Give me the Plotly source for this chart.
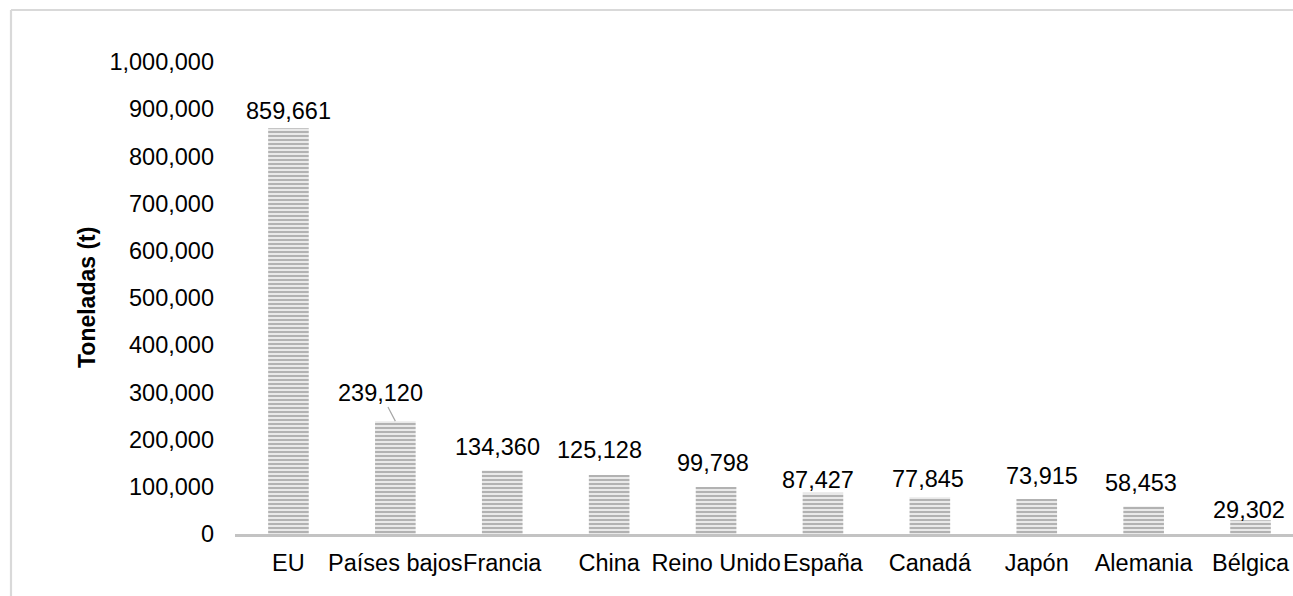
import plotly.graph_objects as go

# Toneladas por destino
paises = ["EU", "Países bajos", "Francia", "China", "Reino Unido",
          "España", "Canadá", "Japón", "Alemania", "Bélgica"]
toneladas = [859661, 239120, 134360, 125128, 99798,
             87427, 77845, 73915, 58453, 29302]
y_ticks = [0, 100000, 200000, 300000, 400000, 500000,
           600000, 700000, 800000, 900000, 1000000]

# label placement (pixels): horizontal shift and height of label centre above the bar
label_dx = [0, -15, -5, -10, -3, -5, -2, 5, -3, -1.5]
label_dy = [17.5, 28.6, 23.8, 25.4, 24, 12.5, 17.8, 22.9, 23.6, 10.2]

FONT = "Liberation Sans, Arial, sans-serif"
FS = 23.5
W, H = 1293, 596
ML, MR, MT, MB = 235, 0, 62, 62
BAND = 106.9  # px per category
plot_w = W - ML - MR
plot_h = H - MT - MB

fig = go.Figure()
fig.add_trace(go.Bar(
    x=paises,
    y=toneladas,
    width=0.38,
    marker=dict(
        color="#e6e6e6",
        line=dict(width=0),
        pattern=dict(shape="-", size=4, solidity=0.42,
                     fgcolor="#a8a8a8", bgcolor="#e9e9e9", fillmode="replace"),
    ),
    hoverinfo="skip",
))

annotations = []
for i, (p, v) in enumerate(zip(paises, toneladas)):
    txt = f"{v:,}"
    if p == "Países bajos":
        annotations.append(dict(
            x=p, y=v, xref="x", yref="y", text=txt,
            showarrow=True, arrowhead=0, arrowwidth=1.2, arrowcolor="#a6a6a6",
            ax=label_dx[i], ay=-label_dy[i], standoff=0,
            font=dict(family=FONT, size=FS, color="#000000"),
        ))
    else:
        annotations.append(dict(
            x=p, y=v, xref="x", yref="y", text=txt, showarrow=False,
            xanchor="center", yanchor="middle",
            xshift=label_dx[i], yshift=label_dy[i],
            font=dict(family=FONT, size=FS, color="#000000"),
        ))

# axis title
annotations.append(dict(
    x=(87 - ML) / plot_w, y=0.5, xref="paper", yref="paper",
    text="<b>Toneladas (t)</b>", textangle=-90, showarrow=False,
    xanchor="center", yanchor="middle",
    font=dict(family=FONT, size=23, color="#000000"),
))

# chart frame (left and top edges)
x_frame = (11 - ML) / plot_w
y_frame = (H - MB - 10) / plot_h
shapes = [
    dict(type="line", xref="paper", yref="paper", x0=x_frame, x1=x_frame,
         y0=-0.5, y1=y_frame, line=dict(color="#d9d9d9", width=2.2)),
    dict(type="line", xref="paper", yref="paper", x0=x_frame, x1=1.2,
         y0=y_frame, y1=y_frame, line=dict(color="#d9d9d9", width=2.2)),
]

fig.update_layout(
    width=W, height=H,
    margin=dict(l=ML, r=MR, t=MT, b=MB, pad=0),
    paper_bgcolor="white", plot_bgcolor="white",
    showlegend=False,
    annotations=annotations,
    shapes=shapes,
    font=dict(family=FONT, size=FS, color="#000000"),
    xaxis=dict(
        type="category",
        range=[-0.5, -0.5 + plot_w / BAND],
        showline=True, linecolor="#c3c3c3", linewidth=3,
        showgrid=False, zeroline=False, ticks="",
        tickangle=0, ticklabelstandoff=6,
        tickfont=dict(family=FONT, size=FS, color="#000000"),
    ),
    yaxis=dict(
        range=[0, 1000000],
        tickvals=y_ticks, tickformat=",",
        showline=False, showgrid=False, zeroline=False, ticks="",
        ticklabelstandoff=20,
        tickfont=dict(family=FONT, size=FS, color="#000000"),
    ),
)

fig.write_html("out.html")
